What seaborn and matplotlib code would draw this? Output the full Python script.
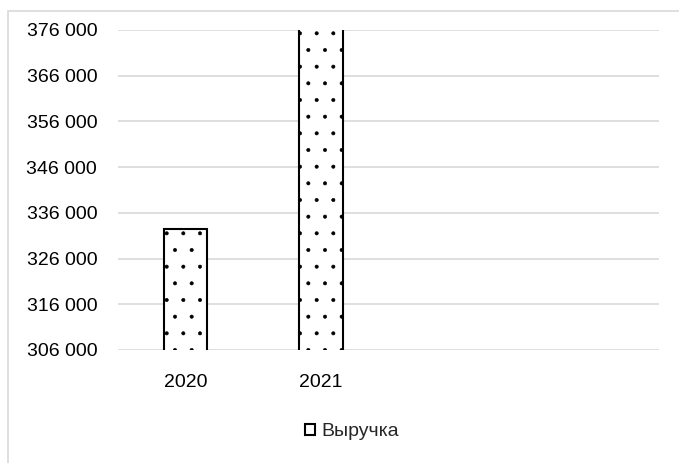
import matplotlib
matplotlib.use("Agg")
import matplotlib.pyplot as plt
import matplotlib.ticker as mticker
from matplotlib.patches import Rectangle
import seaborn as sns

# chart data
years = ["2020", "2021"]
revenue = [332500, 378000]
series_name = "Выручка"
y_ticks = [306000, 316000, 326000, 336000, 346000, 356000, 366000, 376000]

sns.set_theme(style="white")
plt.rcParams["font.family"] = ["Liberation Sans", "DejaVu Sans"]
plt.rcParams["hatch.linewidth"] = 0.4
plt.rcParams["hatch.color"] = "black"

fig = plt.figure(figsize=(6.79, 4.63), dpi=100)
ax = fig.add_axes([118 / 679, 1 - 350 / 463, 541 / 679, 320 / 463])

sns.barplot(x=years, y=revenue, ax=ax, width=0.32, color="white",
            edgecolor="black", linewidth=1.5, hatch=".", label=series_name)

ax.set_xlim(-0.5, 3.5)
ax.set_ylim(y_ticks[0], y_ticks[-1])
ax.set_yticks(y_ticks)
ax.yaxis.set_major_formatter(mticker.FuncFormatter(lambda v, p: f"{int(v):,}".replace(",", " ")))
ax.grid(axis="y", color="#d9d9d9", linewidth=1.2)
ax.set_axisbelow(True)
for s in ax.spines.values():
    s.set_visible(False)
ax.tick_params(axis="y", length=0, pad=15, labelsize=14, labelcolor="black")
ax.tick_params(axis="x", length=0, pad=17, labelsize=14, labelcolor="black")
ax.set_xlabel("")
ax.set_ylabel("")

# legend below the plot (drop the one seaborn puts inside the axes)
handles, labels = ax.get_legend_handles_labels()
if ax.get_legend() is not None:
    ax.get_legend().remove()
fig.legend(handles[:1], labels[:1], loc="center", bbox_to_anchor=(352 / 679, 1 - 432 / 463),
           frameon=False, fontsize=14, handlelength=0.5, handleheight=0.5,
           handletextpad=0.3)

# light chart frame, cut off at right and bottom
fig.patches.append(Rectangle((8 / 679, -0.1), 1.2, 1 - 11 / 463 + 0.1,
                             transform=fig.transFigure, fill=False,
                             edgecolor="#d9d9d9", linewidth=1.2))

fig.savefig("out.png", dpi=100)
